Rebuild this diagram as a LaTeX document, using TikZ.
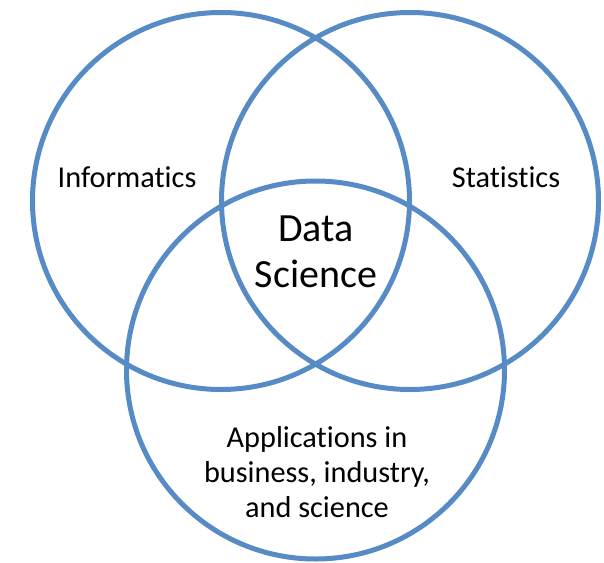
\documentclass[tikz,border=0pt]{standalone}
\usepackage{fontspec}
\setmainfont{Carlito}[Ligatures=NoCommon]
\definecolor{ringblue}{RGB}{86,139,198}
\tikzset{
  ring/.style={draw=ringblue, line width=5pt},
  field/.style={font=\fontsize{30.3}{35}\selectfont, align=center, inner sep=0pt},
  core/.style={font=\fontsize{40}{46}\selectfont, align=center, inner sep=0pt}
}
\begin{document}
\begin{tikzpicture}[x=1pt, y=-1pt]
  \useasboundingbox (0,0) rectangle (604,562);
  \coordinate (I) at (221,201);
  \coordinate (S) at (410,201);
  \coordinate (A) at (315.5,370);
  \draw[ring] (I) circle (188.5);
  \draw[ring] (S) circle (188.5);
  \draw[ring] (A) circle (189);
  \node[field, anchor=base] (info) at (127,187) {Informatics};
  \node[field, anchor=base] (stat) at (506,187) {Statistics};
  \node[core] (ds) at (316,252) {Data\\Science};
  \node[field] (apps) at (317,472) {Applications in\\business, industry,\\and science};
\end{tikzpicture}
\end{document}
